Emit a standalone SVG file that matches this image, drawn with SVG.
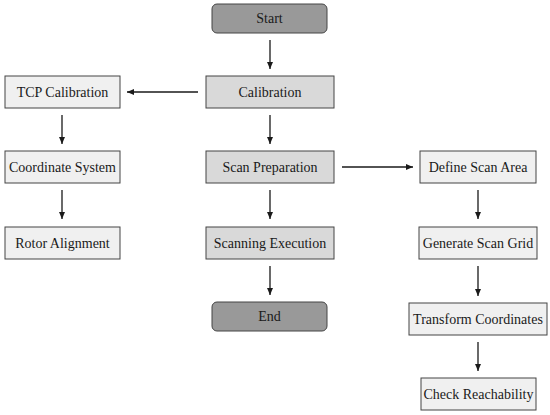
<svg xmlns="http://www.w3.org/2000/svg" width="550" height="415" viewBox="0 0 550 415">
<style>
.term rect{fill:#999999;stroke:#444;stroke-width:1}
.main rect{fill:#d9d9d9;stroke:#444;stroke-width:1}
.side rect{fill:#f0f0f0;stroke:#444;stroke-width:1}
text{font-family:"Liberation Serif","Times New Roman",serif;font-size:14px;fill:#1a1a1a;text-anchor:middle;dominant-baseline:central}
.conn line{stroke:#1a1a1a;stroke-width:1.3;marker-end:url(#ah)}
</style>
<defs>
<marker id="ah" markerWidth="8" markerHeight="8" refX="7" refY="4" orient="auto" markerUnits="userSpaceOnUse">
<path d="M0,1 L7,4 L0,7 Z" fill="#1a1a1a"/>
</marker>
</defs>
<rect width="550" height="415" fill="#fff"/>
<g id="start" class="term"><rect x="212" y="4" width="115" height="29" rx="5"/><text x="269.5" y="18.5">Start</text></g>
<g id="calibration" class="main"><rect x="206" y="76" width="128" height="32"/><text x="270" y="92">Calibration</text></g>
<g id="scanprep" class="main"><rect x="206" y="151" width="128" height="32"/><text x="270" y="167">Scan Preparation</text></g>
<g id="scanexec" class="main"><rect x="206" y="227" width="128" height="32"/><text x="270" y="243">Scanning Execution</text></g>
<g id="end" class="term"><rect x="212" y="302" width="115" height="29" rx="5"/><text x="269.5" y="316.5">End</text></g>
<g id="tcp" class="side"><rect x="5" y="76" width="115" height="32"/><text x="62.5" y="92">TCP Calibration</text></g>
<g id="coord" class="side"><rect x="5" y="151" width="115" height="32"/><text x="62.5" y="167">Coordinate System</text></g>
<g id="rotor" class="side"><rect x="5" y="227" width="115" height="32"/><text x="62.5" y="243">Rotor Alignment</text></g>
<g id="define" class="side"><rect x="420" y="151" width="116" height="32"/><text x="478" y="167">Define Scan Area</text></g>
<g id="grid" class="side"><rect x="419" y="227" width="118" height="32"/><text x="478" y="243">Generate Scan Grid</text></g>
<g id="transform" class="side"><rect x="409" y="303" width="138" height="32"/><text x="478" y="319">Transform Coordinates</text></g>
<g id="check" class="side"><rect x="421" y="378" width="115" height="32"/><text x="478.5" y="394">Check Reachability</text></g>
<g id="connectors" class="conn">
<line x1="270" y1="40" x2="270" y2="69"/>
<line x1="270" y1="115" x2="270" y2="144"/>
<line x1="270" y1="190" x2="270" y2="219"/>
<line x1="270" y1="266" x2="270" y2="295"/>
<line x1="198" y1="92" x2="127" y2="92"/>
<line x1="62" y1="115" x2="62" y2="144"/>
<line x1="62" y1="190" x2="62" y2="219"/>
<line x1="342" y1="167" x2="413" y2="167"/>
<line x1="478" y1="190" x2="478" y2="219"/>
<line x1="478" y1="266" x2="478" y2="296"/>
<line x1="478" y1="342" x2="478" y2="371"/>
</g>
</svg>
